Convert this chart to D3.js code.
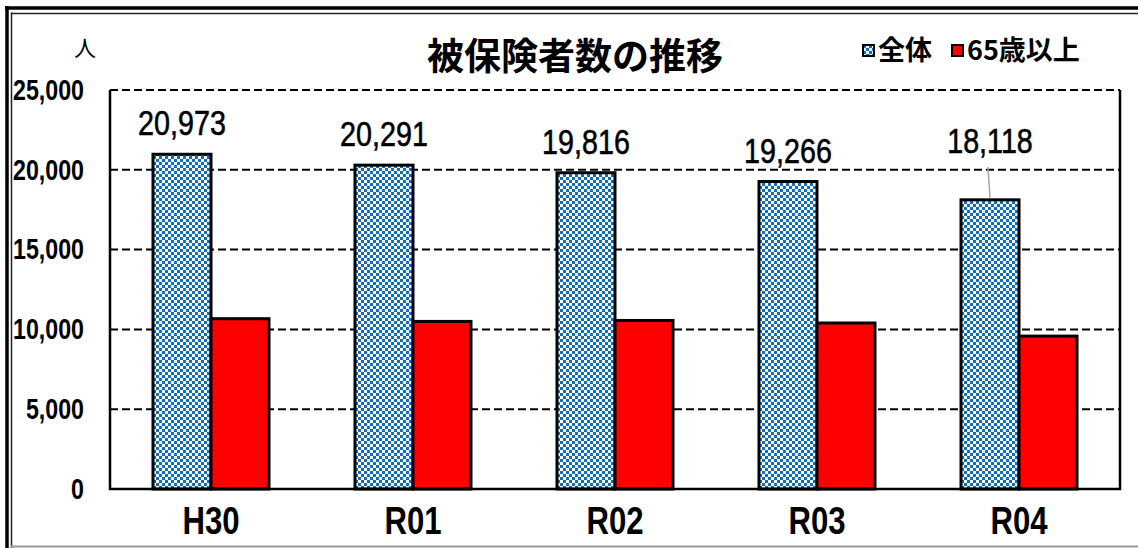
<!DOCTYPE html>
<html>
<head>
<meta charset="utf-8">
<script src="https://cdn.jsdelivr.net/npm/d3@7"></script>
<style>
	html, body { margin: 0; padding: 0; background: #fff; }
	svg { display: block; }
</style>
</head>
<body>
<div class="chart"></div>
<script>
// data
const categories = ["H30", "R01", "R02", "R03", "R04"];
const seriesNames = ["全体", "65歳以上"];
const totalValues = [20973, 20291, 19816, 19266, 18118];
const elderlyValues = [10670, 10500, 10560, 10400, 9580];
const yTicks = [0, 5000, 10000, 15000, 20000, 25000];

(function () {
	const widthSVG = 1138,
		heightSVG = 548;

	const plot = {left: 110, right: 1120, top: 90, bottom: 489};
	// no narrow font installed, so squeeze Liberation Sans horizontally
	const numFont = "'Liberation Sans', Arial, sans-serif";
	const jpFont = "'Noto Sans CJK JP', sans-serif";

	const svg = d3.select(".chart").append("svg")
		.attr("width", widthSVG)
		.attr("height", heightSVG);

	// checker pattern for 全体
	const pat = svg.append("defs").append("pattern")
		.attr("id", "checker")
		.attr("patternUnits", "userSpaceOnUse")
		.attr("width", 6)
		.attr("height", 6);
	pat.append("rect").attr("width", 6).attr("height", 6).attr("fill", "#fff");
	pat.append("rect").attr("width", 3).attr("height", 3).attr("fill", "#0a70c4");
	pat.append("rect").attr("x", 3).attr("y", 3).attr("width", 3).attr("height", 3).attr("fill", "#0a70c4");

	// outer frame (double line on top/left, grey line at bottom)
	svg.append("line").attr("x1", 5).attr("x2", widthSVG).attr("y1", 8).attr("y2", 8)
		.attr("stroke", "#000").attr("stroke-width", 3.5);
	svg.append("line").attr("x1", 11).attr("x2", widthSVG).attr("y1", 13.5).attr("y2", 13.5)
		.attr("stroke", "#222").attr("stroke-width", 1.5);
	svg.append("line").attr("x1", 7).attr("x2", 7).attr("y1", 6).attr("y2", heightSVG)
		.attr("stroke", "#000").attr("stroke-width", 3.5);
	svg.append("line").attr("x1", 11.5).attr("x2", 11.5).attr("y1", 12.5).attr("y2", heightSVG)
		.attr("stroke", "#222").attr("stroke-width", 1.5);
	svg.append("line").attr("x1", 11).attr("x2", widthSVG).attr("y1", 546.5).attr("y2", 546.5)
		.attr("stroke", "#999").attr("stroke-width", 2);

	const x0 = d3.scaleBand()
		.domain(categories)
		.range([plot.left, plot.right]);
	const x1 = d3.scaleBand()
		.domain(seriesNames)
		.range([0, 116])
		.paddingInner(0);
	const groupOffset = (x0.bandwidth() - 116) / 2;

	const y = d3.scaleLinear()
		.domain([0, 25000])
		.range([plot.bottom, plot.top]);

	// gridlines
	svg.append("g")
		.selectAll("line")
		.data(yTicks.filter(function (d) { return d > 0; }))
		.enter().append("line")
		.attr("x1", plot.left)
		.attr("x2", plot.right)
		.attr("y1", function (d) { return y(d); })
		.attr("y2", function (d) { return y(d); })
		.attr("stroke", "#000")
		.attr("stroke-width", 2)
		.attr("stroke-dasharray", "8,4");

	// bars
	const groups = svg.append("g")
		.selectAll("g")
		.data(categories)
		.enter().append("g")
		.attr("transform", function (d) {
			return "translate(" + (x0(d) + groupOffset) + ",0)";
		});

	groups.append("rect")
		.attr("x", x1(seriesNames[0]))
		.attr("y", function (d, i) { return y(totalValues[i]); })
		.attr("width", x1.bandwidth())
		.attr("height", function (d, i) { return y(0) - y(totalValues[i]); })
		.attr("fill", "url(#checker)")
		.attr("stroke", "#000")
		.attr("stroke-width", 3);

	groups.append("rect")
		.attr("x", x1(seriesNames[1]))
		.attr("y", function (d, i) { return y(elderlyValues[i]); })
		.attr("width", x1.bandwidth())
		.attr("height", function (d, i) { return y(0) - y(elderlyValues[i]); })
		.attr("fill", "#ff0000")
		.attr("stroke", "#000")
		.attr("stroke-width", 3);

	// plot frame: left, right, bottom
	svg.append("path")
		.attr("d", "M" + plot.left + "," + plot.top + "V" + plot.bottom + "H" + plot.right + "V" + plot.top)
		.attr("fill", "none")
		.attr("stroke", "#000")
		.attr("stroke-width", 2.5);

	// data labels (last one moved up with a leader line)
	const labelShift = [0, 0, 0, 0, -28];
	const fmt = d3.format(",");
	groups.each(function (d, i) {
		const g = d3.select(this);
		const cx = x1(seriesNames[0]) + x1.bandwidth() / 2;
		const base = y(totalValues[i]) - 19 + labelShift[i];
		if (labelShift[i] !== 0) {
			g.append("line")
				.attr("x1", cx - 2)
				.attr("x2", cx)
				.attr("y1", base + 14)
				.attr("y2", y(totalValues[i]) - 2)
				.attr("stroke", "#a6a6a6")
				.attr("stroke-width", 1.5);
		}
		g.append("text")
			.attr("transform", "translate(" + cx + "," + base + ") scale(0.82,1)")
			.attr("text-anchor", "middle")
			.attr("font-family", numFont)
			.attr("font-size", 35)
			.attr("fill", "#000")
			.attr("stroke", "#000")
			.attr("stroke-width", 0.6)
			.text(fmt(totalValues[i]));
	});

	// y axis
	const yAxis = d3.axisLeft(y)
		.tickValues(yTicks)
		.tickSize(0)
		.tickPadding(0)
		.tickFormat(fmt);
	const yG = svg.append("g")
		.attr("transform", "translate(84,0)")
		.call(yAxis);
	yG.select(".domain").remove();
	yG.selectAll("text")
		.attr("transform", "scale(0.8,1)")
		.attr("font-family", numFont)
		.attr("font-size", 29)
		.attr("font-weight", "bold")
		.attr("fill", "#000");

	// x axis
	const xAxis = d3.axisBottom(x0).tickSize(0).tickPadding(0);
	const xG = svg.append("g")
		.attr("transform", "translate(0," + (plot.bottom + 18) + ")")
		.call(xAxis);
	xG.select(".domain").remove();
	xG.selectAll("text")
		.attr("transform", "scale(0.82,1)")
		.attr("font-family", numFont)
		.attr("font-size", 38)
		.attr("font-weight", "bold")
		.attr("fill", "#000");

	// unit label
	svg.append("text")
		.attr("x", 85)
		.attr("y", 56)
		.attr("text-anchor", "middle")
		.attr("font-family", jpFont)
		.attr("font-size", 22)
		.text("人");

	// title
	svg.append("text")
		.attr("x", 575)
		.attr("y", 70)
		.attr("text-anchor", "middle")
		.attr("font-family", jpFont)
		.attr("font-size", 37)
		.attr("font-weight", "bold")
		.text("被保険者数の推移");

	// legend
	const legendItems = [
		{name: seriesNames[0], x: 863, fill: "url(#checker)"},
		{name: seriesNames[1], x: 952, fill: "#ff0000"}
	];
	const leg = svg.append("g")
		.selectAll("g")
		.data(legendItems)
		.enter().append("g")
		.attr("transform", function (d) { return "translate(" + d.x + ",45)"; });
	leg.append("rect")
		.attr("width", 11)
		.attr("height", 11)
		.attr("fill", function (d) { return d.fill; })
		.attr("stroke", "#000")
		.attr("stroke-width", 2);
	leg.append("text")
		.attr("x", 15)
		.attr("y", 15)
		.attr("font-family", jpFont)
		.attr("font-size", 27)
		.attr("font-weight", "bold")
		.text(function (d) { return d.name; });
}());
</script>
</body>
</html>
